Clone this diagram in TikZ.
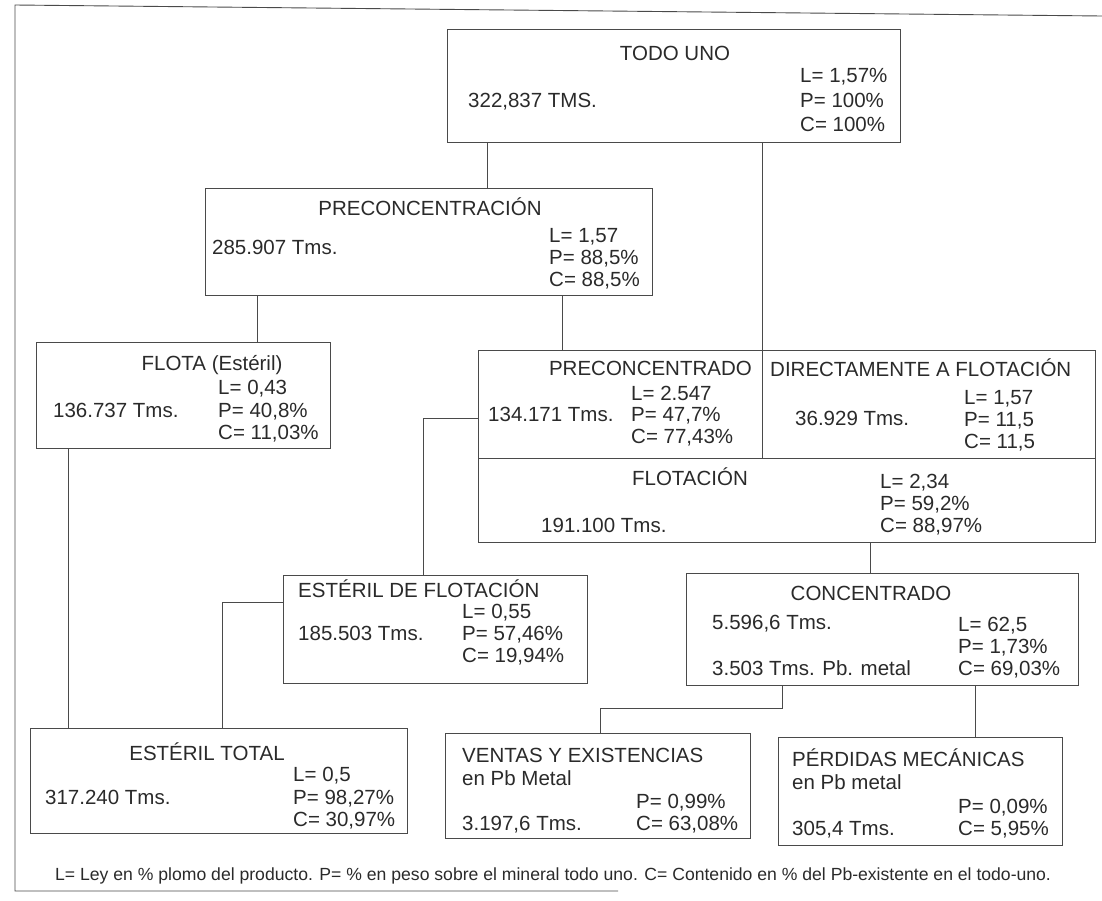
\documentclass[tikz,border=0pt]{standalone}
\usepackage{fontspec}
\setmainfont{Liberation Sans}
\definecolor{ink}{HTML}{2A2A2A}
\definecolor{rule}{HTML}{4A4A4A}
\begin{document}
\begin{tikzpicture}[x=1pt,y=-1pt,
  box/.style={draw=rule,line width=0.9pt,anchor=north west,inner sep=0pt,outer sep=0pt},
  t/.style={anchor=base west,inner sep=0pt,text=ink,font=\fontsize{20.5}{24}\selectfont},
  tc/.style={t,anchor=base},
  te/.style={t,anchor=base east},
  conn/.style={draw=rule,line width=0.9pt},
  frame/.style={draw=rule,line width=0.9pt}]
\useasboundingbox (0,0) rectangle (1102,900);
% outer frame (partial, as in the scan)
\coordinate (f1) at (1102,16);
\coordinate (f0) at (15,5);
\coordinate (f2) at (15,891);
\coordinate (f3) at (618,891);
\draw[frame] (f1) -- (f0) -- (f2) -- (f3);

% boxes
\node[box,minimum width=453pt,minimum height=113pt] (todo) at (447,29) {};
\node[box,minimum width=447pt,minimum height=107pt] (preconc) at (205,188) {};
\node[box,minimum width=294pt,minimum height=106pt] (flota) at (36,342) {};
\node[box,minimum width=284pt,minimum height=108pt] (precdo) at (478,350) {};
\node[box,minimum width=333pt,minimum height=108pt] (direct) at (762,350) {};
\node[box,minimum width=617pt,minimum height=84pt] (flotac) at (478,458) {};
\node[box,minimum width=304pt,minimum height=108pt] (estflot) at (283,575) {};
\node[box,minimum width=392pt,minimum height=112pt] (conc) at (686,573) {};
\node[box,minimum width=377pt,minimum height=105pt] (esttot) at (30,728) {};
\node[box,minimum width=305pt,minimum height=105pt] (ventas) at (445,733) {};
\node[box,minimum width=284pt,minimum height=108pt] (perd) at (778,737) {};

% TODO UNO
\node[tc] (todoT) at (675,60) {TODO UNO};
\node[t] (todoA) at (468,107) {322,837 TMS.};
\node[t] (todoL) at (800,82) {L= 1,57\%};
\node[t] (todoP) at (800,107) {P= 100\%};
\node[t] (todoC) at (800,131) {C= 100\%};
% PRECONCENTRACION
\node[tc] (pcT) at (430,215) {PRECONCENTRACIÓN};
\node[t] (pcA) at (212,254) {285.907 Tms.};
\node[t] (pcL) at (549,242) {L= 1,57};
\node[t] (pcP) at (549,264) {P= 88,5\%};
\node[t] (pcC) at (549,286) {C= 88,5\%};
% FLOTA
\node[tc] (flT) at (212,370) {FLOTA (Estéril)};
\node[t] (flL) at (218,394) {L= 0,43};
\node[t] (flA) at (53,417) {136.737 Tms.};
\node[t] (flP) at (218,417) {P= 40,8\%};
\node[t] (flC) at (218,439) {C= 11,03\%};
% PRECONCENTRADO
\node[te] (pdT) at (752,375) {PRECONCENTRADO};
\node[t] (pdL) at (631,400) {L= 2.547};
\node[t] (pdA) at (488,421) {134.171 Tms.};
\node[t] (pdP) at (631,421) {P= 47,7\%};
\node[t] (pdC) at (631,443) {C= 77,43\%};
% DIRECTAMENTE
\node[t] (dT) at (770,376) {DIRECTAMENTE A FLOTACIÓN};
\node[t] (dL) at (964,404) {L= 1,57};
\node[t] (dA) at (795,425) {36.929 Tms.};
\node[t] (dP) at (964,426) {P= 11,5};
\node[t] (dC) at (964,448) {C= 11,5};
% FLOTACION
\node[tc] (fT) at (690,485) {FLOTACIÓN};
\node[t] (fL) at (880,488) {L= 2,34};
\node[t] (fP) at (880,510) {P= 59,2\%};
\node[t] (fA) at (541,532) {191.100 Tms.};
\node[t] (fC) at (880,532) {C= 88,97\%};
% ESTERIL DE FLOTACION
\node[t] (efT) at (298,597) {ESTÉRIL DE FLOTACIÓN};
\node[t] (efL) at (462,618) {L= 0,55};
\node[t] (efA) at (298,640) {185.503 Tms.};
\node[t] (efP) at (462,640) {P= 57,46\%};
\node[t] (efC) at (462,662) {C= 19,94\%};
% CONCENTRADO
\node[tc] (cT) at (871,600) {CONCENTRADO};
\node[t] (cA) at (712,629) {5.596,6 Tms.};
\node[t] (cL) at (958,631) {L= 62,5};
\node[t] (cP) at (958,653) {P= 1,73\%};
\node[t] (cB) at (712,675) {3.503 Tms. Pb. metal};
\node[t] (cC) at (958,675) {C= 69,03\%};
% ESTERIL TOTAL
\node[tc] (etT) at (207,760) {ESTÉRIL TOTAL};
\node[t] (etL) at (293,781) {L= 0,5};
\node[t] (etA) at (45,804) {317.240 Tms.};
\node[t] (etP) at (293,804) {P= 98,27\%};
\node[t] (etC) at (293,826) {C= 30,97\%};
% VENTAS
\node[t] (vT) at (462,762) {VENTAS Y EXISTENCIAS};
\node[t] (vS) at (462,785) {en Pb Metal};
\node[t] (vP) at (636,808) {P= 0,99\%};
\node[t] (vA) at (462,830) {3.197,6 Tms.};
\node[t] (vC) at (636,830) {C= 63,08\%};
% PERDIDAS
\node[t] (pT) at (792,766) {PÉRDIDAS MECÁNICAS};
\node[t] (pS) at (792,789) {en Pb metal};
\node[t] (pP) at (958,813) {P= 0,09\%};
\node[t] (pA) at (792,835) {305,4 Tms.};
\node[t] (pC) at (958,835) {C= 5,95\%};
% footnote
\node[t,font=\fontsize{17.6}{20}\selectfont] (note) at (55,880) {L= Ley en \% plomo del producto. P= \% en peso sobre el mineral todo uno. C= Contenido en \% del Pb-existente en el todo-uno.};

% connector guide coordinates
\coordinate (x1) at (487,0);
\coordinate (x2) at (762,0);
\coordinate (x3) at (257,0);
\coordinate (x4) at (562,0);
\coordinate (x5) at (68,0);
\coordinate (k6) at (423,418);
\coordinate (k7) at (222,602);
\coordinate (x8) at (870,0);
\coordinate (k9a) at (782,708);
\coordinate (k9b) at (600,708);
\coordinate (x10) at (975,0);

\draw[conn] (todo.south -| x1) -- (preconc.north -| x1);
\draw[conn] (todo.south -| x2) -- (direct.north -| x2);
\draw[conn] (preconc.south -| x3) -- (flota.north -| x3);
\draw[conn] (preconc.south -| x4) -- (precdo.north -| x4);
\draw[conn] (flota.south -| x5) -- (esttot.north -| x5);
\draw[conn] (precdo.west |- k6) -- (k6) -- (estflot.north -| k6);
\draw[conn] (estflot.west |- k7) -- (k7) -- (esttot.north -| k7);
\draw[conn] (flotac.south -| x8) -- (conc.north -| x8);
\draw[conn] (conc.south -| k9a) -- (k9a) -- (k9b) -- (ventas.north -| k9b);
\draw[conn] (conc.south -| x10) -- (perd.north -| x10);
\end{tikzpicture}
\end{document}
